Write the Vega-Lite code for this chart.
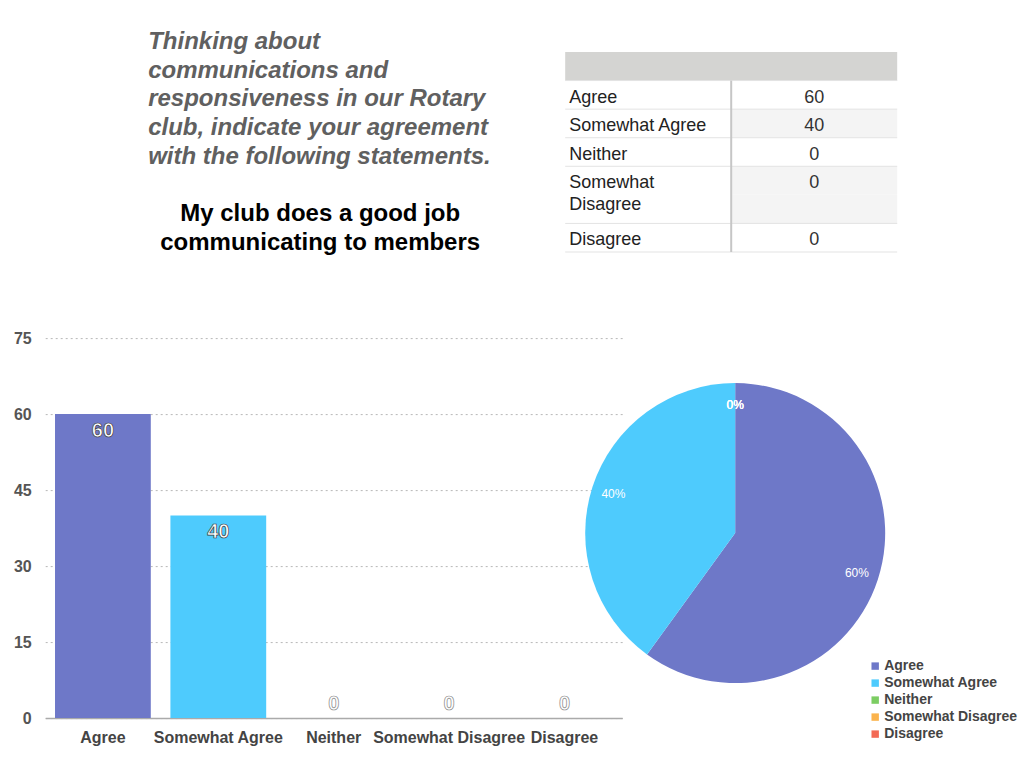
{
  "$schema": "https://vega.github.io/schema/vega-lite/v6.json",
  "background": "white",
  "padding": {"left": 13.2, "top": 27.6, "right": 5, "bottom": 5},
  "config": {"view": {"stroke": null}, "font": "Liberation Sans"},
  "datasets": {
    "resp": [
      {"idx": 1, "response": "Agree", "count": 60, "pct": "60%"},
      {"idx": 2, "response": "Somewhat Agree", "count": 40, "pct": "40%"},
      {"idx": 3, "response": "Neither", "count": 0, "pct": "0%"},
      {"idx": 4, "response": "Somewhat Disagree", "count": 0, "pct": "0%"},
      {"idx": 5, "response": "Disagree", "count": 0, "pct": "0%"}
    ],
    "heading": [
      {"line": 1, "text": "Thinking about", "kind": "question"},
      {"line": 2, "text": "communications and", "kind": "question"},
      {"line": 3, "text": "responsiveness in our Rotary", "kind": "question"},
      {"line": 4, "text": "club, indicate your agreement", "kind": "question"},
      {"line": 5, "text": "with the following statements.", "kind": "question"},
      {"line": 7, "text": "My club does a good job", "kind": "statement"},
      {"line": 8, "text": "communicating to members", "kind": "statement"}
    ],
    "table": [
      {"slot": 0, "label": "", "value": ""},
      {"slot": 1, "label": "Agree", "value": "60"},
      {"slot": 2, "label": "Somewhat Agree", "value": "40"},
      {"slot": 3, "label": "Neither", "value": "0"},
      {"slot": 4, "label": "Somewhat\nDisagree", "value": "0"},
      {"slot": 5, "label": "", "value": ""},
      {"slot": 6, "label": "Disagree", "value": "0"}
    ]
  },
  "spacing": 72.5,
  "resolve": {
    "scale": {"x": "independent", "y": "independent", "color": "independent", "theta": "independent"},
    "axis": {"x": "independent", "y": "independent"},
    "legend": {"color": "independent"}
  },
  "vconcat": [
    {
      "spacing": 0,
      "bounds": "flush",
      "resolve": {
        "scale": {"x": "independent", "y": "independent"},
        "axis": {"x": "independent", "y": "independent"}
      },
      "hconcat": [
        {
          "width": 520,
          "height": 230,
          "data": {"name": "heading"},
          "encoding": {
            "y": {"field": "line", "type": "ordinal", "scale": {"type": "point", "domain": [1, 2, 3, 4, 5, 6, 7, 8], "padding": 0.5}, "axis": null},
            "text": {"field": "text"}
          },
          "layer": [
            {
              "transform": [{"filter": "datum.kind == 'question'"}],
              "mark": {"type": "text", "align": "left", "baseline": "middle", "dx": -157, "fontSize": 24, "fontWeight": "bold", "fontStyle": "italic", "color": "#606060"}
            },
            {
              "transform": [{"filter": "datum.kind == 'statement'"}],
              "mark": {"type": "text", "align": "center", "baseline": "middle", "dx": 15, "fontSize": 24, "fontWeight": "bold", "color": "#000000"}
            }
          ]
        },
        {
          "width": 332,
          "height": 224.4,
          "data": {"name": "table"},
          "layer": [
            {
              "transform": [{"filter": "datum.slot == 0"}],
              "mark": {"type": "rect", "color": "#d4d4d2"},
              "encoding": {
                "y": {"field": "slot", "type": "ordinal", "scale": {"type": "band", "domain": [0, 1, 2, 3, 4, 5, 6], "paddingInner": 0, "paddingOuter": 0.427, "align": 1}, "axis": null}
              }
            },
            {
              "transform": [{"filter": "datum.slot == 2 || datum.slot == 4 || datum.slot == 5"}],
              "mark": {"type": "rect", "color": "#f4f4f4"},
              "encoding": {
                "x": {"datum": "val", "type": "nominal", "scale": {"type": "band", "domain": ["label", "val"], "paddingInner": 0, "paddingOuter": 0}, "axis": null},
                "y": {"field": "slot", "type": "ordinal"}
              }
            },
            {
              "transform": [{"filter": "datum.slot >= 1 && datum.slot != 5"}],
              "mark": {"type": "rule", "color": "#e3e3e3", "strokeWidth": 1},
              "encoding": {"y": {"field": "slot", "type": "ordinal", "bandPosition": 0}}
            },
            {
              "transform": [{"filter": "datum.slot == 6"}],
              "mark": {"type": "rule", "color": "#e3e3e3", "strokeWidth": 1},
              "encoding": {"y": {"field": "slot", "type": "ordinal", "bandPosition": 1}}
            },
            {
              "data": {"values": [{}]},
              "mark": {"type": "rule", "color": "#c6c6c6", "strokeWidth": 2, "y2Offset": 14.3},
              "encoding": {
                "x": {"datum": "val", "type": "nominal", "bandPosition": 0},
                "y": {"datum": 1, "type": "ordinal", "bandPosition": 0},
                "y2": {"datum": 6}
              }
            },
            {
              "mark": {"type": "text", "align": "left", "baseline": "top", "dx": 4, "dy": 8, "fontSize": 18, "lineBreak": "\n", "lineHeight": 22, "color": "#222222"},
              "encoding": {
                "x": {"datum": "label", "type": "nominal", "bandPosition": 0},
                "y": {"field": "slot", "type": "ordinal", "bandPosition": 0},
                "text": {"field": "label"}
              }
            },
            {
              "mark": {"type": "text", "align": "center", "baseline": "top", "dy": 8, "fontSize": 18, "color": "#333333"},
              "encoding": {
                "x": {"datum": "val", "type": "nominal"},
                "y": {"field": "slot", "type": "ordinal", "bandPosition": 0},
                "text": {"field": "value"}
              }
            }
          ]
        }
      ]
    },
    {
      "spacing": 0,
      "bounds": "flush",
      "resolve": {
        "scale": {"x": "independent", "y": "independent", "color": "independent", "theta": "independent"},
        "axis": {"x": "independent", "y": "independent"},
        "legend": {"color": "independent"}
      },
      "hconcat": [
        {
          "width": 577,
          "height": 380,
          "data": {"name": "resp"},
          "encoding": {
            "x": {
              "field": "response", "type": "nominal",
              "scale": {"domain": ["Agree", "Somewhat Agree", "Neither", "Somewhat Disagree", "Disagree"], "paddingInner": 0.17, "paddingOuter": 0.085},
              "axis": {"title": null, "labelAngle": 0, "labelFontSize": 16, "labelFontWeight": "bold", "labelColor": "#444444", "ticks": false, "domainColor": "#aaaaaa", "domainWidth": 1.5, "labelPadding": 11, "labelLimit": 300}
            },
            "y": {
              "field": "count", "type": "quantitative",
              "scale": {"domain": [0, 75], "nice": false},
              "axis": {"title": null, "values": [0, 15, 30, 45, 60, 75], "labelFontSize": 16, "labelFontWeight": "bold", "labelColor": "#555555", "ticks": false, "domain": false, "gridColor": "#b8b8b8", "gridDash": [2, 3], "labelPadding": 14}
            }
          },
          "layer": [
            {
              "mark": {"type": "bar"},
              "encoding": {
                "color": {
                  "field": "response", "type": "nominal",
                  "scale": {"domain": ["Agree", "Somewhat Agree", "Neither", "Somewhat Disagree", "Disagree"], "range": ["#6e78c8", "#4ecbfd", "#7ccd63", "#fbb34c", "#f36a55"]},
                  "legend": null
                }
              }
            },
            {
              "transform": [{"filter": "datum.count > 0"}],
              "mark": {"type": "text", "baseline": "top", "dy": 7, "fontSize": 20, "fontWeight": "bold", "fill": "white", "stroke": "#3a3a3a", "strokeWidth": 0.7},
              "encoding": {"text": {"field": "count"}}
            },
            {
              "transform": [{"filter": "datum.count == 0"}],
              "mark": {"type": "text", "baseline": "bottom", "dy": -4, "fontSize": 20, "fontWeight": "bold", "fill": "white", "stroke": "#8a8a8a", "strokeWidth": 0.7},
              "encoding": {"text": {"field": "count"}}
            }
          ]
        },
        {
          "width": 226,
          "height": 390,
          "data": {"name": "resp"},
          "encoding": {
            "theta": {"field": "count", "type": "quantitative", "stack": true},
            "order": {"field": "idx", "type": "quantitative"}
          },
          "layer": [
            {
              "mark": {"type": "arc", "outerRadius": 150},
              "encoding": {
                "color": {
                  "field": "response", "type": "nominal",
                  "scale": {"domain": ["Agree", "Somewhat Agree", "Neither", "Somewhat Disagree", "Disagree"], "range": ["#6e78c8", "#4ecbfd", "#7ccd63", "#fbb34c", "#f36a55"]},
                  "legend": {"orient": "none", "legendX": 246, "legendY": 321, "title": null, "symbolType": "square", "symbolSize": 55, "labelFontSize": 14, "labelFontWeight": "bold", "labelColor": "#444444", "rowPadding": 3, "labelOffset": 2}
                }
              }
            },
            {
              "mark": {"type": "text", "radius": 128, "fontSize": 12, "fill": "white"},
              "encoding": {
                "detail": {"field": "response", "type": "nominal"},
                "text": {"field": "pct"}
              }
            }
          ]
        }
      ]
    }
  ]
}
